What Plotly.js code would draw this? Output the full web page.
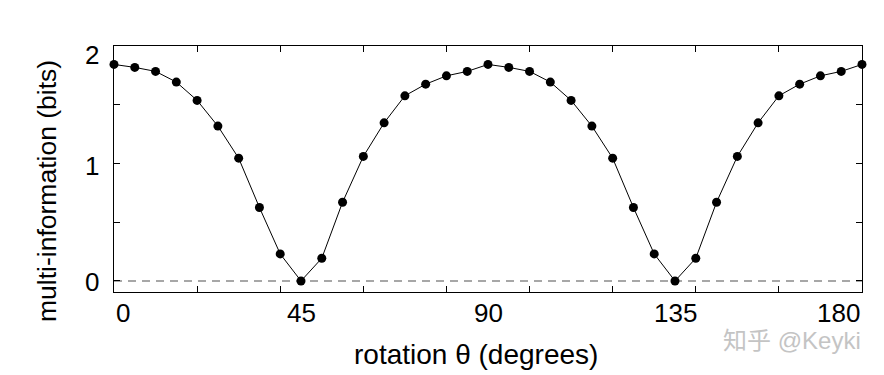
<!DOCTYPE html>
<html>
<head>
<meta charset="utf-8">
<script src="https://cdn.plot.ly/plotly-3.0.1.min.js"></script>
<style>html,body{margin:0;padding:0;background:#fff;}#chart{width:884px;height:375px;}</style>
</head>
<body>
<div id="chart"></div>
<script>
// rotation angle (degrees)
const theta = [0,5,10,15,20,25,30,35,40,45,50,55,60,65,70,75,80,85,90,
               95,100,105,110,115,120,125,130,135,140,145,150,155,160,165,170,175,180];
// multi-information (bits)
const multiInfo = [1.843,1.818,1.784,1.693,1.537,1.318,1.045,0.625,0.230,0.0,0.193,0.670,1.060,1.346,1.576,1.675,1.746,1.784,1.843,
                   1.818,1.784,1.693,1.537,1.318,1.045,0.625,0.230,0.0,0.193,0.670,1.060,1.346,1.576,1.675,1.746,1.784,1.843];
// axis labels
const xTickVals = [0,45,90,135,180];
const xTickText = ["0","45","90","135","180"];
const yTickVals = [0,1,2];
const yTickText = ["0","1","2"];
const xTitle = "rotation θ (degrees)";
const yTitle = "multi-information (bits)";
const watermark = "知乎 @Keyki";

const font = "Liberation Sans, Arial, Helvetica, sans-serif";

const traces = [
  {
    x: [0, 180], y: [0, 0], mode: "lines", hoverinfo: "skip",
    line: {color: "#8a8a8a", width: 1.5, dash: "8px,6px"}
  },
  {
    x: theta, y: multiInfo, mode: "lines+markers", cliponaxis: false,
    line: {color: "#000", width: 1},
    marker: {color: "#000", size: 9}
  }
];

const annotations = [];
xTickVals.forEach((v, i) => {
  annotations.push({
    x: v, xref: "x", y: 0, yref: "paper", text: xTickText[i], showarrow: false,
    xanchor: i === 0 ? "left" : (i === xTickVals.length - 1 ? "right" : "center"),
    yanchor: "middle", yshift: -21,
    font: {family: font, size: 26, color: "#000"}
  });
});
yTickVals.forEach((v, i) => {
  annotations.push({
    x: 0, xref: "paper", y: v, yref: "y", text: yTickText[i], showarrow: false,
    xanchor: "right", xshift: -13,
    yanchor: "middle", yshift: i === yTickVals.length - 1 ? -9 : (i === 1 ? -3 : -1),
    font: {family: font, size: 26, color: "#000"}
  });
});
annotations.push({
  x: 0.5, xref: "paper", xshift: -12, y: 0, yref: "paper", yshift: -62,
  text: xTitle, showarrow: false, xanchor: "center", yanchor: "middle",
  font: {family: font, size: 28, color: "#000"}
});
annotations.push({
  x: 0, xref: "paper", xshift: -67, y: 0.5, yref: "paper", yshift: -22,
  text: yTitle, showarrow: false, textangle: -90, xanchor: "center", yanchor: "middle",
  font: {family: font, size: 26.5, color: "#000"}
});
annotations.push({
  x: 1, xref: "paper", xshift: 1, y: 0, yref: "paper", yshift: -48,
  text: watermark, showarrow: false, xanchor: "right", yanchor: "middle",
  font: {family: "Liberation Sans, Noto Sans CJK SC, sans-serif", size: 24, color: "#c4c4c4"}
});

const layout = {
  width: 884, height: 375,
  margin: {l: 114, r: 22, t: 46, b: 83},
  paper_bgcolor: "#fff", plot_bgcolor: "#fff",
  showlegend: false,
  xaxis: {
    range: [0, 180], tickvals: [20,40,60,80,100,120,140,160], showticklabels: false,
    ticks: "inside", ticklen: 6, tickwidth: 1, tickcolor: "#000",
    showline: true, linecolor: "#000", linewidth: 1, mirror: "ticks",
    showgrid: false, zeroline: false, fixedrange: true
  },
  yaxis: {
    range: [-0.094, 2.0], tickvals: [0, 0.5, 1, 1.5], showticklabels: false,
    ticks: "inside", ticklen: 6, tickwidth: 1, tickcolor: "#000",
    showline: true, linecolor: "#000", linewidth: 1, mirror: "ticks",
    showgrid: false, zeroline: false, fixedrange: true
  },
  annotations: annotations
};

Plotly.newPlot("chart", traces, layout, {displayModeBar: false, staticPlot: true});
</script>
</body>
</html>
